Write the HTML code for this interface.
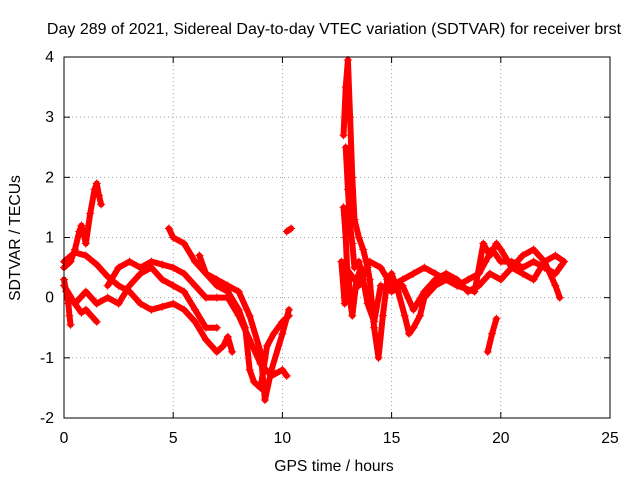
<!DOCTYPE html>
<html><head><meta charset="utf-8">
<style>
body{margin:0;background:#fff;}
svg{display:block;font-family:"Liberation Sans",sans-serif;}
</style></head>
<body>
<svg id="chart" width="640" height="480">
<text x="334" y="34" font-size="16" text-anchor="middle">Day 289 of 2021, Sidereal Day-to-day VTEC variation (SDTVAR) for receiver brst</text>
<text x="334" y="471" font-size="15.7" text-anchor="middle">GPS time / hours</text>
<text transform="translate(20,238) rotate(-90)" font-size="15.7" text-anchor="middle">SDTVAR / TECUs</text>
<g id="grid"></g>
<g id="ticks"></g>
<g id="marks"></g>
<rect x="64" y="57" width="546" height="361" fill="none" stroke="#000" stroke-width="1"/>
</svg>
<script>
const xTicks=[0,5,10,15,20,25];
const yTicks=[-2,-1,0,1,2,3,4];
const trackA=[[0,0.5],[0.3,0.6],[0.5,0.8],[0.7,1.1],[0.8,1.2],[1.0,0.9],[1.2,1.4],[1.4,1.8],[1.5,1.9],[1.6,1.7],[1.7,1.55]];
const trackB=[[0,0.3],[0.1,0.1],[0.2,-0.1],[0.25,-0.3],[0.3,-0.45]];
const trackC=[[0,0.6],[0.5,0.75],[1,0.7],[1.5,0.55],[2,0.35],[2.5,0.2],[3,0.1],[3.5,-0.1],[4,-0.2],[4.5,-0.15],[5,-0.1],[5.5,-0.2],[6,-0.4],[6.5,-0.7],[7,-0.9],[7.3,-0.8],[7.5,-0.65],[7.7,-0.9]];
const trackD=[[0,0.2],[0.5,-0.1],[0.8,-0.25],[1,-0.2],[1.5,-0.4]];
const trackE=[[0.5,-0.1],[1,0.1],[1.5,-0.1],[2,0],[2.5,-0.1],[3,0.2],[3.5,0.4],[4,0.5],[4.5,0.3],[5,0.2],[5.5,0.1],[6,-0.2],[6.5,-0.5],[7,-0.5]];
const trackF=[[2,0.2],[2.5,0.5],[3,0.6],[3.5,0.5],[4,0.6],[4.5,0.55],[5,0.5],[5.5,0.4],[6,0.2],[6.5,0],[7,0],[7.5,0],[8,-0.3],[8.5,-0.7],[9,-1.1],[9.5,-1.3],[10,-1.2],[10.2,-1.3]];
const trackG=[[4.8,1.15],[5,1.0],[5.5,0.9],[6,0.6],[6.5,0.4],[7,0.3],[7.5,0.2],[8,0.1],[8.5,-0.3],[9,-0.9],[9.2,-1.7],[9.5,-1.2],[10,-0.6],[10.3,-0.2]];
const trackH=[[6.2,0.7],[6.5,0.4],[7,0.2],[7.5,0.1],[8,-0.2],[8.3,-0.5],[8.5,-1.2],[8.7,-1.4],[9,-1.5],[9.3,-0.8],[9.6,-0.6],[10,-0.4],[10.3,-0.3]];
const trackI=[[10.2,1.1],[10.4,1.15]];
const trackJ=[[12.8,2.7],[12.9,3.5],[13,3.95],[13.1,3.0],[13.2,2.0],[13.3,1.3],[13.5,1.0],[13.7,0.8],[13.9,0.5],[14,0.3],[14.2,-0.5],[14.4,-1.0],[14.6,-0.3],[14.8,0.3],[15,0.4],[15.3,0.1],[15.6,-0.3],[15.8,-0.6],[16,-0.5],[16.3,-0.3],[16.5,0],[17,0.2],[17.5,0.3],[18,0.2],[18.5,0.3],[19,0.4],[19.3,0.6],[19.6,0.8],[20,0.6],[20.5,0.6],[21,0.5],[21.5,0.6],[22,0.5],[22.5,0.4],[22.8,0.55]];
const trackK=[[12.8,1.5],[12.9,1.0],[13,0.2],[13.2,-0.3],[13.4,0.3],[13.6,0.5],[13.9,-0.1],[14.2,-0.4],[14.5,0.2],[15,0.1],[15.5,0.2],[16,-0.2],[16.5,0.1],[17,0.3],[17.5,0.4],[18,0.3],[18.5,0.1],[19,0.2],[19.5,0.4],[20,0.3],[20.5,0.5],[21,0.7],[21.5,0.8],[22,0.6],[22.5,0.2],[22.7,0]];
const trackL=[[19.4,-0.9],[19.6,-0.6],[19.8,-0.35]];
const trackM=[[12.9,0.5],[13.5,0.2],[14,0.6],[14.5,0.5],[15,0.2],[15.5,0.3],[16,0.4],[16.5,0.5],[17,0.4],[18,0.2],[18.8,0.1],[19.2,0.9],[19.5,0.7],[19.8,0.9],[20,0.8],[20.5,0.5],[21,0.4],[21.5,0.3],[22,0.6],[22.5,0.7],[22.9,0.6]];
const trackN=[[12.9,2.5],[13.0,1.8],[13.1,1.2],[13.2,0.9],[13.3,0.5],[13.5,0.6],[13.7,0.3]];
const trackO=[[12.7,0.6],[12.85,-0.1],[13.0,0.4],[13.1,0.1]];
const tracks=[trackA,trackB,trackC,trackD,trackE,trackF,trackG,trackH,trackI,trackJ,trackK,trackL,trackM,trackN,trackO];

const X0=64,X1=610,Y0=418,Y1=57,xMin=0,xMax=25,yMin=-2,yMax=4;
function xs(v){return X0+(v-xMin)/(xMax-xMin)*(X1-X0);}
function ys(v){return Y0-(v-yMin)/(yMax-yMin)*(Y0-Y1);}
const NS='http://www.w3.org/2000/svg';
function mk(tag,attrs,parent){const e=document.createElementNS(NS,tag);for(const k in attrs)e.setAttribute(k,attrs[k]);parent.appendChild(e);return e;}
const grid=document.getElementById('grid'),ticks=document.getElementById('ticks'),marks=document.getElementById('marks');
xTicks.forEach(t=>{const x=xs(t);
 if(t>xMin&&t<xMax){const g=mk('line',{x1:x,x2:x,y1:Y1,y2:Y0,stroke:'#a0a0a0','stroke-dasharray':'1,3'},grid);
 
 }
 mk('line',{x1:x,x2:x,y1:Y0,y2:Y0-6,stroke:'#000'},ticks);
 mk('line',{x1:x,x2:x,y1:Y1,y2:Y1+6,stroke:'#000'},ticks);
 const l=mk('text',{x:x,y:Y0+25,'font-size':15.7,'text-anchor':'middle'},ticks);l.textContent=t;
 
 });
yTicks.forEach(t=>{const y=ys(t);
 if(t>yMin&&t<yMax){const g=mk('line',{x1:X0,x2:X1,y1:y,y2:y,stroke:'#a0a0a0','stroke-dasharray':'1,3'},grid);
 
 }
 mk('line',{x1:X0,x2:X0+6,y1:y,y2:y,stroke:'#000'},ticks);
 mk('line',{x1:X1,x2:X1-6,y1:y,y2:y,stroke:'#000'},ticks);
 const l=mk('text',{x:X0-10,y:y+5,'font-size':15.7,'text-anchor':'end'},ticks);l.textContent=t;
 
 });
tracks.forEach(tr=>{
 const p=mk('polyline',{points:tr.map(d=>xs(d[0])+','+ys(d[1])).join(' '),fill:'none',stroke:'#f00','stroke-width':6,'stroke-linejoin':'round','stroke-linecap':'round'},marks);
 
 
 tr.forEach(d=>{const x=xs(d[0]),y=ys(d[1]);
  const m=mk('path',{d:`M${x-4},${y}H${x+4}M${x},${y-4}V${y+4}`,stroke:'#f00','stroke-width':1},marks);
  
  });
});
</script>
</body></html>
